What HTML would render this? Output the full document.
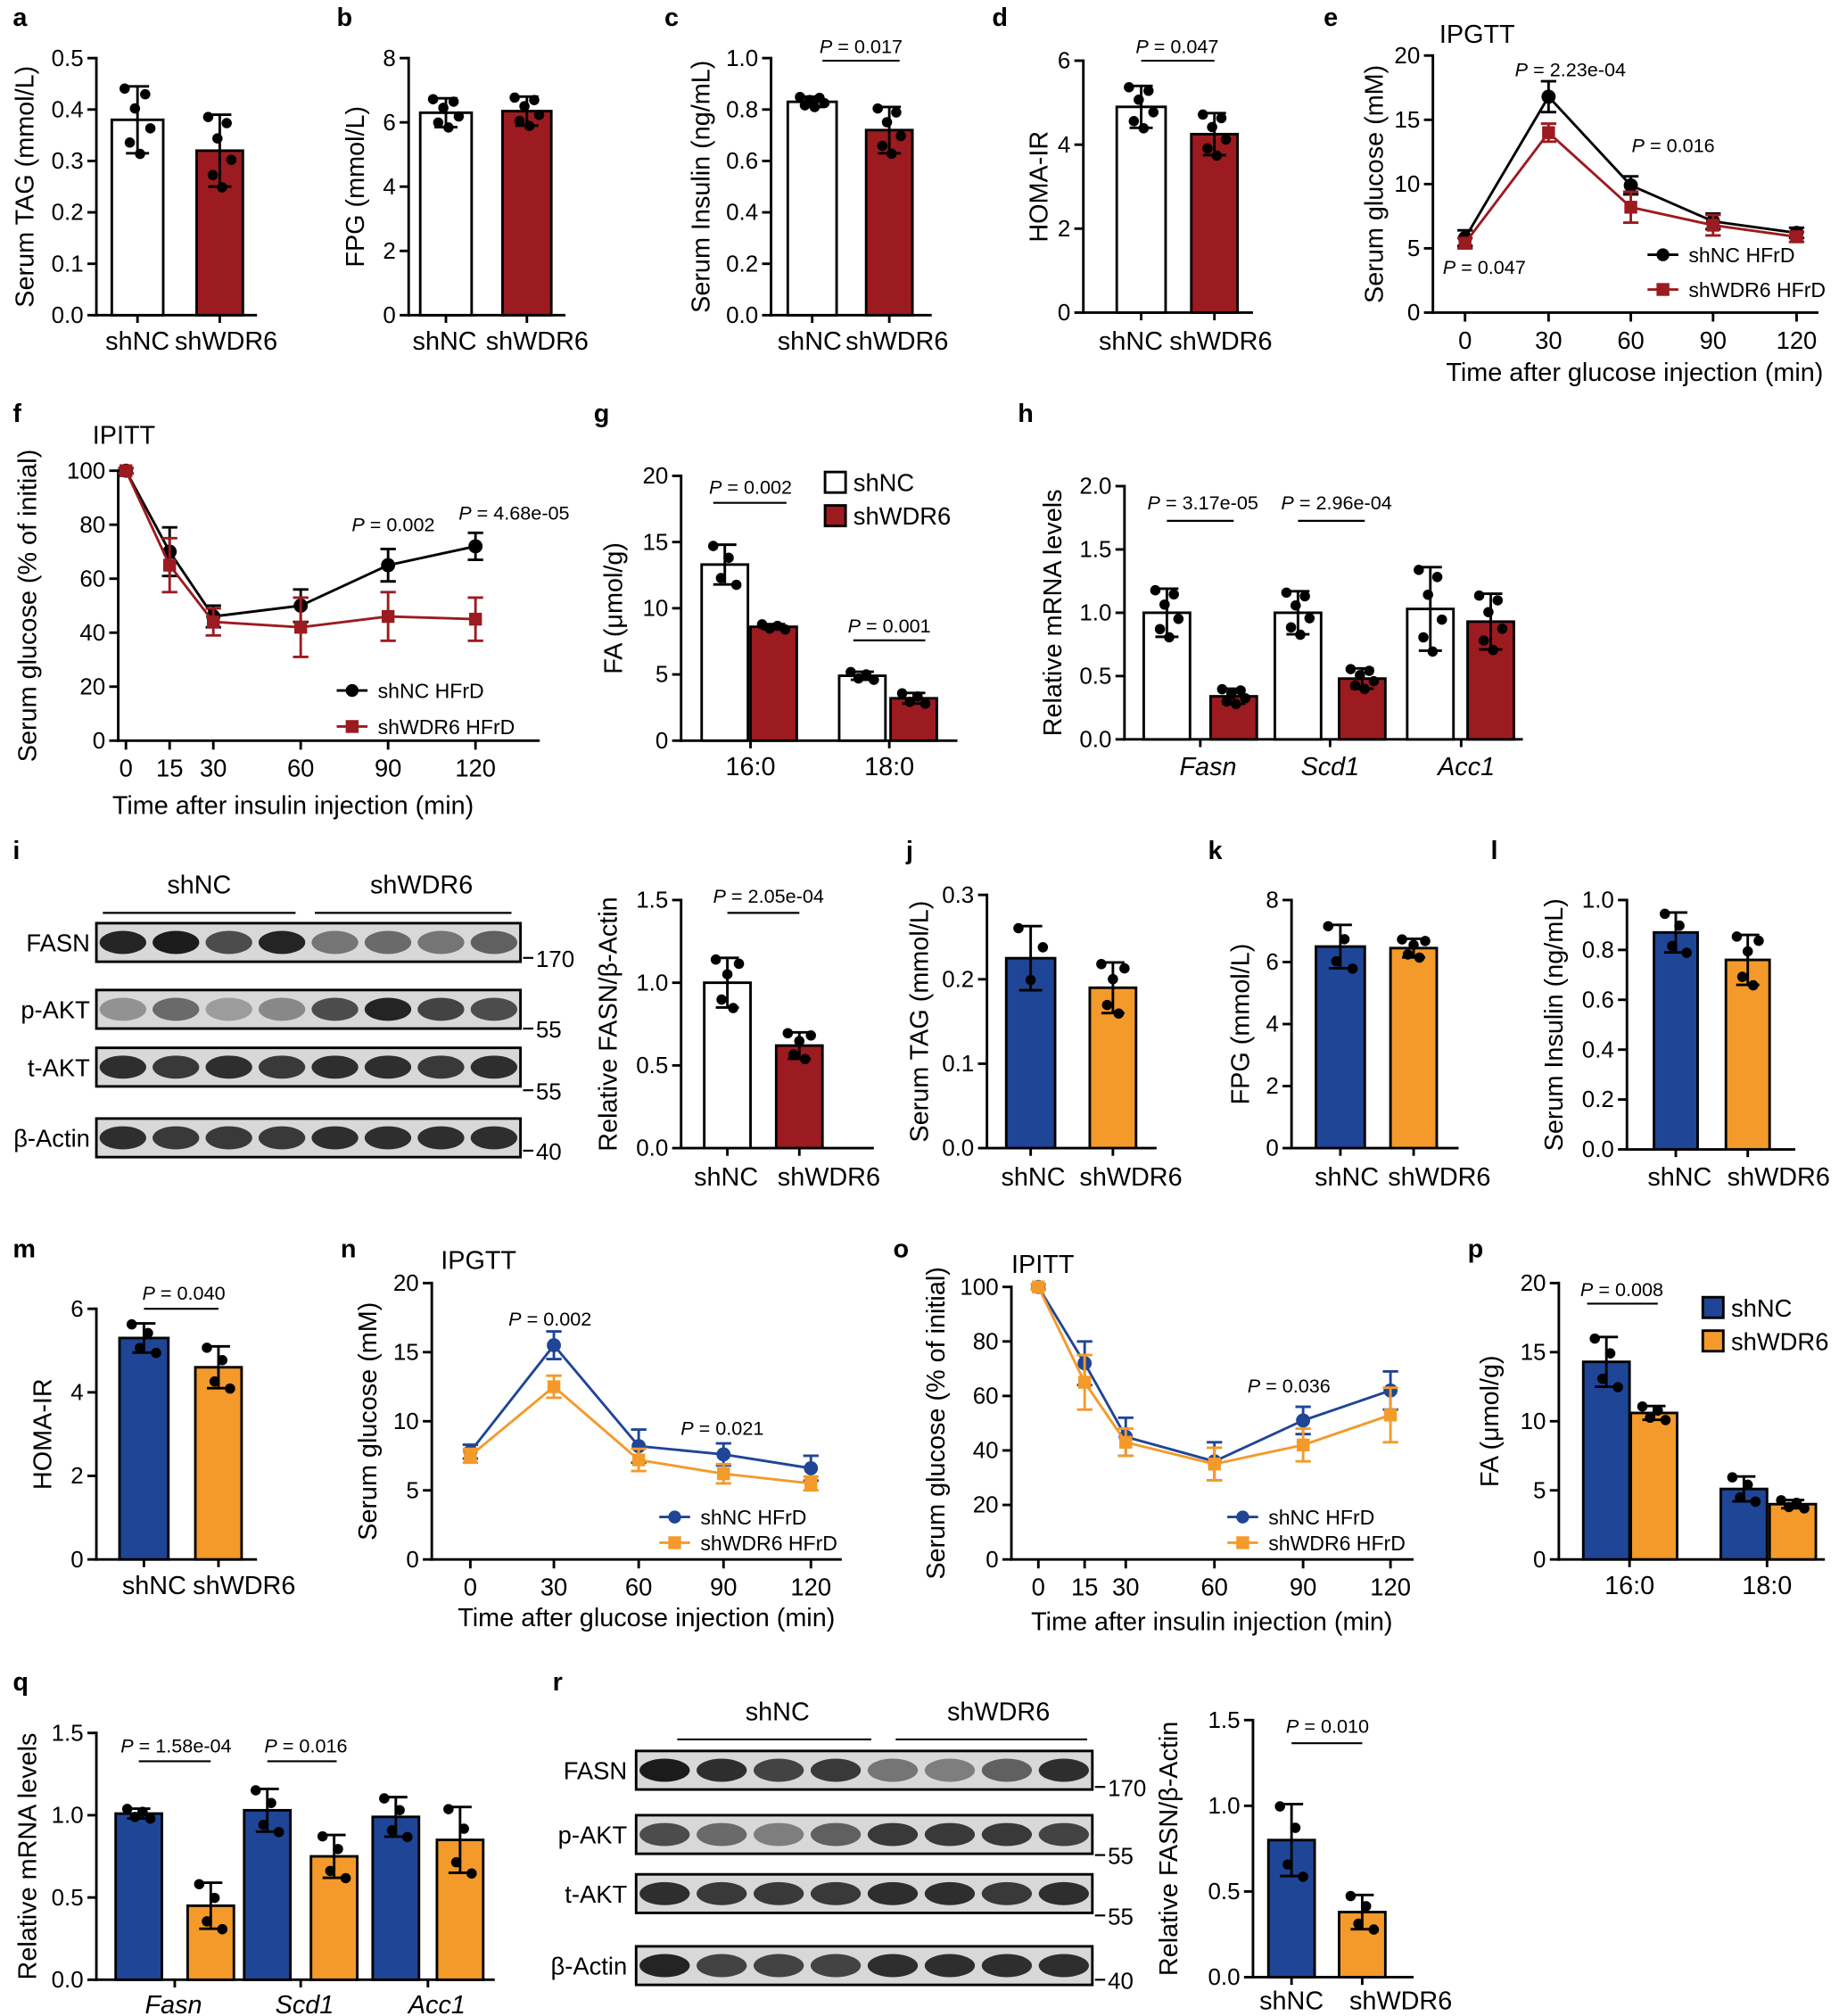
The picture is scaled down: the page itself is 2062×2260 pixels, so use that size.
<!DOCTYPE html>
<html><head><meta charset="utf-8"><style>
html,body{margin:0;padding:0;background:#fff;}
svg{display:block;}
text{font-family:"Liberation Sans",Arial,sans-serif;fill:#000;}
</style></head><body>
<svg id="s" xmlns="http://www.w3.org/2000/svg" width="2062" height="2260" viewBox="0 0 1431 1568"></svg>
<script>
const S=document.getElementById('s');const NS='http://www.w3.org/2000/svg';
function E(t,a,txt){const e=document.createElementNS(NS,t);for(const k in a)e.setAttribute(k,a[k]);if(txt!==undefined)e.textContent=txt;S.appendChild(e);return e;}
function L(x1,y1,x2,y2,c,w){E('line',{x1,y1,x2,y2,stroke:c||'#000','stroke-width':w||2});}
function T(x,y,s,o){o=o||{};const a={x,y,'font-size':o.fs||19,'text-anchor':o.a||'middle'};if(o.b)a['font-weight']='bold';if(o.i)a['font-style']='italic';if(o.r){a.transform=`rotate(-90 ${x} ${y})`;}if(o.c)a.fill=o.c;E('text',a,s);}
function P(x,y,val,x1,x2,ly){const t=E('text',{x,y,'font-size':15,'text-anchor':'middle'});const a=document.createElementNS(NS,'tspan');a.setAttribute('font-style','italic');a.textContent='P';t.appendChild(a);t.appendChild(document.createTextNode(' = '+val));if(x1!==undefined)L(x1,ly,x2,ly,'#000',1.5);}
const RED='#9B1B20',BLUE='#1F4596',OR='#F39A2B';
const pat=[1.1,-0.8,0.4,-1.2,0.9,-0.3];
function bar(o){
 const sc=v=>o.y0-(v/o.vmax)*(o.y0-o.y1);
 L(o.x0,o.y1-1,o.x0,o.y0+1);L(o.x0-1,o.y0,o.xend,o.y0);
 o.ticks.forEach(t=>{const y=sc(t);L(o.x0-7,y,o.x0,y);T(o.x0-10,y+6,o.fmt?o.fmt(t):String(t),{a:'end',fs:18});});
 o.bars.forEach(b=>{const yt=sc(b.v);
  E('rect',{x:b.cx-b.w/2,y:yt,width:b.w,height:o.y0-yt,fill:b.c||'#fff',stroke:'#000','stroke-width':2});
  const ye=sc(b.v+b.e),yl=sc(Math.max(0,b.v-b.e));L(b.cx,ye,b.cx,yl,'#000',2);L(b.cx-9,ye,b.cx+9,ye);L(b.cx-9,yl,b.cx+9,yl);
  const n=b.n||6;for(let k=0;k<n;k++){const dx=(k-(n-1)/2)*(b.w*0.5/(n-1||1));const v=b.v+b.e*pat[k%6]*0.85;E('circle',{cx:b.cx+dx,cy:sc(v),r:4,fill:'#000'});}
 });
 (o.xt||o.bars.map(b=>b.cx)).forEach(x=>L(x,o.y0,x,o.y0+6));
 (o.xl||[]).forEach(l=>T(l[0],o.xly,l[1],{fs:20,i:l[2]}));
 if(o.yl)T(o.yl[0],(o.y0+o.y1)/2,o.yl[1],{r:1,fs:20});
}
function line(o){
 const sy=v=>o.y0-(v/o.vmax)*(o.y0-o.y1);
 L(o.x0,o.y1-1,o.x0,o.y0+1);L(o.x0-1,o.y0,o.xend,o.y0);
 o.ticks.forEach(t=>{const y=sy(t);L(o.x0-7,y,o.x0,y);T(o.x0-10,y+6,String(t),{a:'end',fs:18});});
 o.xs.forEach((x,i)=>{L(x,o.y0,x,o.y0+7);T(x,o.y0+28,o.xlab[i],{fs:19});});
 o.series.forEach(s=>{
  const pts=o.xs.map((x,i)=>x+','+sy(s.v[i])).join(' ');
  E('polyline',{points:pts,fill:'none',stroke:s.c,'stroke-width':2});
  o.xs.forEach((x,i)=>{const y1=sy(s.v[i]+s.e[i]),y2=sy(s.v[i]-s.e[i]);L(x,y1,x,y2,s.c,2);L(x-6,y1,x+6,y1,s.c,2);L(x-6,y2,x+6,y2,s.c,2);
   if(s.sq)E('rect',{x:x-5,y:sy(s.v[i])-5,width:10,height:10,fill:s.c});else E('circle',{cx:x,cy:sy(s.v[i]),r:5.5,fill:s.c});});
 });
 T(o.title[0],o.title[1],o.title[2],{fs:20,a:'start'});
 T(o.xt[0],o.xt[1],o.xt[2],{fs:20});
 T(o.yt[0],(o.y0+o.y1)/2,o.yt[1],{r:1,fs:20});
 o.leg.forEach(l=>{L(l[0],l[1],l[0]+24,l[1],l[3],2);if(l[4])E('rect',{x:l[0]+7,y:l[1]-5,width:10,height:10,fill:l[3]});else E('circle',{cx:l[0]+12,cy:l[1],r:5,fill:l[3]});T(l[0]+32,l[1]+6,l[2],{fs:16,a:'start'});});
}
function blot(x1,x2,rows,lx,mk,grp,inten){
 rows.forEach((r,ri)=>{E('rect',{x:x1,y:r[1],width:x2-x1,height:r[2]-r[1],fill:'#d8d8d8',stroke:'#000','stroke-width':2});
  const w=(x2-x1)/8;for(let k=0;k<8;k++){const op=inten[ri][k];E('ellipse',{cx:x1+w*(k+0.5),cy:(r[1]+r[2])/2,rx:w*0.44,ry:(r[2]-r[1])*0.3,fill:'#111','fill-opacity':op});}
  T(lx,(r[1]+r[2])/2+7,r[0],{a:'end',fs:19});
  L(x2+2,mk[ri][1],x2+10,mk[ri][1],'#000',1.5);T(x2+12,mk[ri][1]+7,mk[ri][0],{a:'start',fs:18});
 });
 grp.forEach(g=>{T(g[0],g[1],g[2],{fs:20});L(g[3],g[1]+15,g[4],g[1]+15,'#000',1.5);});
}
[['a',10,20],['b',262,20],['c',517,20],['d',772,20],['e',1030,20],['f',10,328],['g',462,328],['h',792,328],['i',10,668],['j',705,668],['k',940,668],['l',1160,668],['m',10,978],['n',265,978],['o',695,978],['p',1142,978],['q',10,1315],['r',430,1315]].forEach(p=>T(p[1],p[2],p[0],{b:1,fs:20,a:'start'}));
const f1=t=>t.toFixed(1);
bar({x0:75,y0:245,y1:45,vmax:0.5,ticks:[0,.1,.2,.3,.4,.5],fmt:f1,xend:200,bars:[{cx:107,w:40,v:.38,e:.065},{cx:171,w:36,v:.32,e:.07,c:RED}],xl:[[107,'shNC'],[176,'shWDR6']],xly:272,yl:[26,'Serum TAG (mmol/L)']});
bar({x0:318,y0:245,y1:45,vmax:8,ticks:[0,2,4,6,8],xend:440,bars:[{cx:347,w:40,v:6.3,e:.45},{cx:410,w:38,v:6.35,e:.45,c:RED}],xl:[[346,'shNC'],[418,'shWDR6']],xly:272,yl:[283,'FPG (mmol/L)']});
bar({x0:600,y0:245,y1:45,vmax:1,ticks:[0,.2,.4,.6,.8,1],fmt:f1,xend:725,bars:[{cx:632,w:38,v:.83,e:.02},{cx:692,w:36,v:.72,e:.09,c:RED}],xl:[[630,'shNC'],[698,'shWDR6']],xly:272,yl:[552,'Serum Insulin (ng/mL)']});
P(670,41,'0.017',640,700,47);
bar({x0:843,y0:243,y1:47,vmax:6,ticks:[0,2,4,6],xend:975,bars:[{cx:888,w:38,v:4.9,e:.5},{cx:945,w:36,v:4.25,e:.5,c:RED}],xl:[[880,'shNC'],[950,'shWDR6']],xly:272,yl:[815,'HOMA-IR']});
P(916,41,'0.047',888,945,47);
line({x0:1115,y0:243,y1:43,vmax:20,ticks:[0,5,10,15,20],xend:1415,xs:[1140,1205,1269,1333,1398],xlab:['0','30','60','90','120'],
 series:[{c:'#000',v:[5.8,16.8,9.9,7.1,6.2],e:[.6,1.2,.7,.6,.4]},{c:RED,sq:1,v:[5.4,14,8.2,6.8,5.9],e:[.4,.7,1.2,.8,.4]}],
 title:[1120,33,'IPGTT'],xt:[1272,296,'Time after glucose injection (min)'],yt:[1076,'Serum glucose (mM)'],leg:[[1282,198,'shNC HFrD','#000'],[1282,225,'shWDR6 HFrD',RED,1]]});
P(1222,59,'2.23e-04');P(1302,118,'0.016');P(1155,213,'0.047');
line({x0:92,y0:576,y1:366,vmax:100,ticks:[0,20,40,60,80,100],xend:420,xs:[98,132,166,234,302,370],xlab:['0','15','30','60','90','120'],
 series:[{c:'#000',v:[100,70,46,50,65,72],e:[1,9,4,6,6,5]},{c:RED,sq:1,v:[100,65,44,42,46,45],e:[1,10,5,11,9,8]}],
 title:[72,345,'IPITT'],xt:[228,633,'Time after insulin injection (min)'],yt:[28,'Serum glucose (% of initial)'],leg:[[262,537,'shNC HFrD','#000'],[262,565,'shWDR6 HFrD',RED,1]]});
P(306,413,'0.002');P(400,404,'4.68e-05');
bar({x0:530,y0:576,y1:370,vmax:20,ticks:[0,5,10,15,20],xend:745,bars:[{cx:564,w:36,v:13.3,e:1.5,n:4},{cx:602,w:36,v:8.6,e:.2,c:RED,n:4},{cx:671,w:36,v:4.9,e:.3,n:4},{cx:711,w:36,v:3.2,e:.4,c:RED,n:4}],xt:[584,692],xl:[[584,'16:0'],[692,'18:0']],xly:603,yl:[484,'FA (μmol/g)']});
E('rect',{x:642,y:367,width:16,height:16,fill:'#fff',stroke:'#000','stroke-width':2});T(664,382,'shNC',{a:'start',fs:19});
E('rect',{x:642,y:393,width:16,height:16,fill:RED,stroke:'#000','stroke-width':2});T(664,408,'shWDR6',{a:'start',fs:19});
P(584,384,'0.002',555,612,391);P(692,492,'0.001',664,720,498);
bar({x0:875,y0:575,y1:378,vmax:2,ticks:[0,.5,1,1.5,2],fmt:f1,xend:1185,bars:[{cx:908,w:36,v:1,e:.19},{cx:960,w:36,v:.34,e:.06,c:RED},{cx:1010,w:36,v:1,e:.17},{cx:1060,w:36,v:.48,e:.08,c:RED},{cx:1113,w:36,v:1.03,e:.33},{cx:1160,w:36,v:.93,e:.22,c:RED}],xt:[934,1035,1137],xl:[[940,'Fasn',1],[1035,'Scd1',1],[1141,'Acc1',1]],xly:603,yl:[826,'Relative mRNA levels']});
P(936,396,'3.17e-05',908,960,405);P(1040,396,'2.96e-04',1010,1062,405);
blot(75,405,[['FASN',718,748],['p-AKT',770,800],['t-AKT',815,845],['β-Actin',870,900]],70,[['170',745],['55',800],['55',848],['40',895]],[[155,695,'shNC',80,230],[328,695,'shWDR6',245,398]],
 [[.9,.95,.7,.9,.5,.55,.5,.6],[.35,.55,.3,.4,.7,.9,.75,.7],[.85,.8,.85,.8,.85,.85,.8,.85],[.85,.8,.8,.8,.85,.85,.85,.85]]);
bar({x0:530,y0:893,y1:700,vmax:1.5,ticks:[0,.5,1,1.5],fmt:f1,xend:680,bars:[{cx:566,w:36,v:1,e:.15,n:5},{cx:622,w:36,v:.62,e:.08,c:RED,n:5}],xl:[[565,'shNC'],[645,'shWDR6']],xly:922,yl:[480,'Relative FASN/β-Actin']});
P(598,702,'2.05e-04',566,622,710);
bar({x0:768,y0:893,y1:696,vmax:.3,ticks:[0,.1,.2,.3],fmt:f1,xend:900,bars:[{cx:802,w:38,v:.225,e:.038,c:BLUE,n:3},{cx:866,w:36,v:.19,e:.03,c:OR,n:5}],xl:[[804,'shNC'],[880,'shWDR6']],xly:922,yl:[722,'Serum TAG (mmol/L)']});
bar({x0:1005,y0:893,y1:700,vmax:8,ticks:[0,2,4,6,8],xend:1135,bars:[{cx:1043,w:38,v:6.5,e:.7,c:BLUE,n:4},{cx:1100,w:36,v:6.45,e:.3,c:OR,n:5}],xl:[[1048,'shNC'],[1120,'shWDR6']],xly:922,yl:[972,'FPG (mmol/L)']});
bar({x0:1266,y0:894,y1:700,vmax:1,ticks:[0,.2,.4,.6,.8,1],fmt:f1,xend:1397,bars:[{cx:1304,w:34,v:.87,e:.08,c:BLUE,n:4},{cx:1360,w:34,v:.76,e:.1,c:OR,n:5}],xl:[[1307,'shNC'],[1384,'shWDR6']],xly:922,yl:[1216,'Serum Insulin (ng/mL)']});
bar({x0:75,y0:1213,y1:1018,vmax:6,ticks:[0,2,4,6],xend:200,bars:[{cx:112,w:38,v:5.3,e:.35,c:BLUE,n:4},{cx:170,w:36,v:4.6,e:.5,c:OR,n:4}],xl:[[120,'shNC'],[190,'shWDR6']],xly:1240,yl:[40,'HOMA-IR']});
P(143,1011,'0.040',112,170,1018);
line({x0:336,y0:1213,y1:998,vmax:20,ticks:[0,5,10,15,20],xend:655,xs:[366,431,497,563,631],xlab:['0','30','60','90','120'],
 series:[{c:BLUE,v:[7.8,15.5,8.2,7.6,6.6],e:[.5,1,1.2,.8,.9]},{c:OR,sq:1,v:[7.5,12.5,7.2,6.2,5.5],e:[.5,.8,.8,.7,.5]}],
 title:[343,987,'IPGTT'],xt:[503,1265,'Time after glucose injection (min)'],yt:[293,'Serum glucose (mM)'],leg:[[513,1180,'shNC HFrD',BLUE],[513,1200,'shWDR6 HFrD',OR,1]]});
P(428,1031,'0.002');P(562,1116,'0.021');
line({x0:787,y0:1213,y1:1001,vmax:100,ticks:[0,20,40,60,80,100],xend:1100,xs:[808,844,876,945,1014,1082],xlab:['0','15','30','60','90','120'],
 series:[{c:BLUE,v:[100,72,45,36,51,62],e:[1,8,7,7,5,7]},{c:OR,sq:1,v:[100,65,43,35,42,53],e:[1,10,5,6,6,10]}],
 title:[787,990,'IPITT'],xt:[943,1268,'Time after insulin injection (min)'],yt:[735,'Serum glucose (% of initial)'],leg:[[955,1180,'shNC HFrD',BLUE],[955,1200,'shWDR6 HFrD',OR,1]]});
P(1003,1083,'0.036');
bar({x0:1213,y0:1213,y1:998,vmax:20,ticks:[0,5,10,15,20],xend:1420,bars:[{cx:1250,w:36,v:14.3,e:1.8,c:BLUE,n:4},{cx:1287,w:36,v:10.6,e:.5,c:OR,n:4},{cx:1357,w:36,v:5.1,e:.9,c:BLUE,n:4},{cx:1395,w:36,v:4.0,e:.3,c:OR,n:4}],xt:[1268,1375],xl:[[1268,'16:0'],[1375,'18:0']],xly:1240,yl:[1166,'FA (μmol/g)']});
E('rect',{x:1325,y:1009,width:16,height:16,fill:BLUE,stroke:'#000','stroke-width':2});T(1347,1024,'shNC',{a:'start',fs:19});
E('rect',{x:1325,y:1035,width:16,height:16,fill:OR,stroke:'#000','stroke-width':2});T(1347,1050,'shWDR6',{a:'start',fs:19});
P(1262,1008,'0.008',1235,1290,1014);
bar({x0:75,y0:1540,y1:1348,vmax:1.5,ticks:[0,.5,1,1.5],fmt:f1,xend:385,bars:[{cx:108,w:36,v:1.01,e:.03,c:BLUE,n:4},{cx:164,w:36,v:.45,e:.14,c:OR,n:4},{cx:208,w:36,v:1.03,e:.13,c:BLUE,n:4},{cx:260,w:36,v:.75,e:.13,c:OR,n:4},{cx:308,w:36,v:.99,e:.12,c:BLUE,n:4},{cx:358,w:36,v:.85,e:.2,c:OR,n:4}],xt:[136,234,333],xl:[[135,'Fasn',1],[237,'Scd1',1],[340,'Acc1',1]],xly:1566,yl:[28,'Relative mRNA levels']});
P(137,1363,'1.58e-04',108,164,1370);P(238,1363,'0.016',208,262,1370);
blot(495,850,[['FASN',1362,1392],['p-AKT',1412,1442],['t-AKT',1458,1488],['β-Actin',1514,1544]],488,[['170',1390],['55',1443],['55',1490],['40',1540]],[[605,1338,'shNC',527,678],[777,1338,'shWDR6',697,846]],
 [[.95,.85,.75,.8,.5,.45,.6,.85],[.7,.55,.45,.6,.8,.8,.8,.75],[.85,.8,.8,.8,.85,.85,.8,.85],[.9,.75,.75,.75,.85,.85,.85,.85]]);
bar({x0:975,y0:1538,y1:1338,vmax:1.5,ticks:[0,.5,1,1.5],fmt:f1,xend:1100,bars:[{cx:1005,w:36,v:.8,e:.21,c:BLUE,n:4},{cx:1060,w:36,v:.38,e:.1,c:OR,n:4}],xl:[[1005,'shNC'],[1090,'shWDR6']],xly:1563,yl:[916,'Relative FASN/β-Actin']});
P(1033,1348,'0.010',1005,1060,1356);
</script>
</body></html>
